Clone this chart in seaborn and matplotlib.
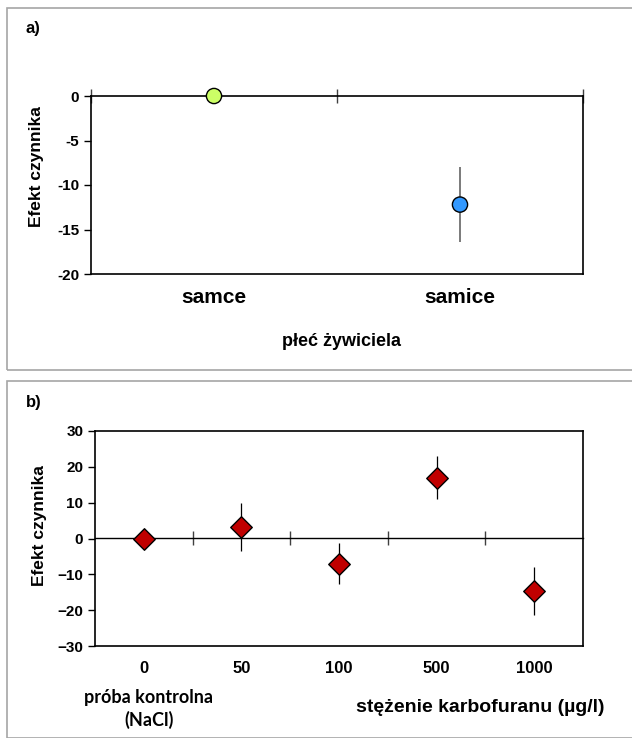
import pandas as pd
import matplotlib
matplotlib.use("Agg")
import matplotlib.pyplot as plt
from matplotlib.patches import Rectangle
import seaborn as sns

# -----------------------------
# Data
# -----------------------------
sex_labels = ["samce", "samice"]
sex_effect = [0.0, -12.2]
sex_err = [0.0, 4.2]
sex_colors = ["#CCFF66", "#3399FF"]

conc_labels = ["0", "50", "100", "500", "1000"]
conc_effect = [0.0, 3.1, -7.0, 17.0, -14.6]
conc_err = [0.0, 6.7, 5.8, 6.0, 6.7]

sns.set_theme(style="white")
plt.rcParams['font.family'] = ['Liberation Sans', 'DejaVu Sans']
plt.rcParams['text.color'] = 'black'
plt.rcParams['axes.labelcolor'] = 'black'
plt.rcParams['xtick.color'] = 'black'
plt.rcParams['ytick.color'] = 'black'

fig = plt.figure(figsize=(6.32, 7.38), dpi=100)

# grey panel frames
for y0, h in [(1 - 370 / 738, 362 / 738), (1 - 738 / 738, 357 / 738)]:
    fig.patches.append(Rectangle((7 / 632, y0), 1.0, h, transform=fig.transFigure,
                                 fill=False, edgecolor="#A6A6A6", linewidth=1.2))

# -----------------------------
# a) host sex
# -----------------------------
df_a = pd.DataFrame({"sex": sex_labels, "effect": sex_effect, "err": sex_err})
ax1 = fig.add_axes([91 / 632, 1 - 274 / 738, 492 / 632, 178 / 738])
ax1.errorbar(range(len(df_a)), df_a["effect"], yerr=df_a["err"], fmt="none",
             ecolor="#707070", elinewidth=1.3, zorder=2)
sns.scatterplot(data=df_a, x="sex", y="effect", hue="sex", palette=sex_colors,
                s=120, edgecolor="black", linewidth=1.0, legend=False, ax=ax1, zorder=3)
ax1.collections[-1].set_clip_on(False)
ax1.set_xlim(-0.5, 1.5)
ax1.set_ylim(-20, 0)
ax1.set_yticks([0, -5, -10, -15, -20])
ax1.set_yticklabels(["0", "-5", "-10", "-15", "-20"])
ax1.set_xticks([0, 1])
ax1.set_xticklabels(sex_labels, fontsize=15, fontweight="bold")
ax1.tick_params(axis="x", length=0, pad=10)
ax1.tick_params(axis="y", left=True, length=5, width=1, direction="out",
                labelsize=11, color="black")
for lab in ax1.get_yticklabels():
    lab.set_fontweight("bold")
top1 = ax1.secondary_xaxis("top")
top1.set_xticks([-0.5, 0.5, 1.5])
top1.tick_params(direction="inout", length=10, width=1, color="#404040",
                 labeltop=False, labelbottom=False)
for sp in top1.spines.values():
    sp.set_visible(False)
for sp in ax1.spines.values():
    sp.set_color("black")
    sp.set_linewidth(1.2)
ax1.set_xlabel("płeć żywiciela", fontsize=13, fontweight="bold")
ax1.xaxis.set_label_coords(0.51, -0.33)
ax1.set_ylabel("Efekt czynnika", fontsize=12.5, fontweight="bold")
ax1.yaxis.set_label_coords(-0.096, 0.605)
fig.text(26 / 632, 1 - 29 / 738, "a)", fontsize=12, fontweight="bold", va="center")

# -----------------------------
# b) carbofuran concentration
# -----------------------------
df_b = pd.DataFrame({"conc": conc_labels, "effect": conc_effect, "err": conc_err})
ax2 = fig.add_axes([95 / 632, 1 - 646 / 738, 488 / 632, 215 / 738])
ax2.errorbar(range(len(df_b)), df_b["effect"], yerr=df_b["err"], fmt="none",
             ecolor="black", elinewidth=0.9, zorder=2)
sns.scatterplot(data=df_b, x="conc", y="effect", marker="D", color="#C00000",
                s=120, edgecolor="black", linewidth=1.0, legend=False, ax=ax2, zorder=3)
ax2.set_xlim(-0.5, 4.5)
ax2.set_ylim(-30, 30)
ax2.set_yticks([30, 20, 10, 0, -10, -20, -30])
ax2.set_xticks(range(len(conc_labels)))
ax2.set_xticklabels(conc_labels, fontsize=12, fontweight="bold")
ax2.tick_params(axis="x", length=0, pad=11)
ax2.tick_params(axis="y", left=True, length=5, width=1, direction="out",
                labelsize=11, color="black")
for lab in ax2.get_yticklabels():
    lab.set_fontweight("bold")
mid2 = ax2.secondary_xaxis(0.5)
mid2.set_xticks([0.5, 1.5, 2.5, 3.5])
mid2.tick_params(direction="inout", length=10, width=1, color="#404040",
                 labeltop=False, labelbottom=False)
for sp in mid2.spines.values():
    sp.set_color("black")
    sp.set_linewidth(1.0)
for sp in ax2.spines.values():
    sp.set_color("black")
    sp.set_linewidth(1.2)
ax2.set_xlabel("")
ax2.set_ylabel("Efekt czynnika", fontsize=12.5, fontweight="bold")
ax2.yaxis.set_label_coords(-0.098, 0.558)
fig.text(26 / 632, 1 - 403 / 738, "b)", fontsize=12, fontweight="bold", va="center")
fig.text(149 / 632, 1 - 709 / 738, "próba kontrolna\n(NaCl)", fontsize=13,
         fontweight="bold", ha="center", va="center", family=["Lato", "DejaVu Sans"],
         linespacing=1.3)
fig.text(480 / 632, 1 - 708 / 738, "stężenie karbofuranu (µg/l)", fontsize=14,
         fontweight="bold", ha="center", va="center")

plt.savefig("out.png", dpi=100)
